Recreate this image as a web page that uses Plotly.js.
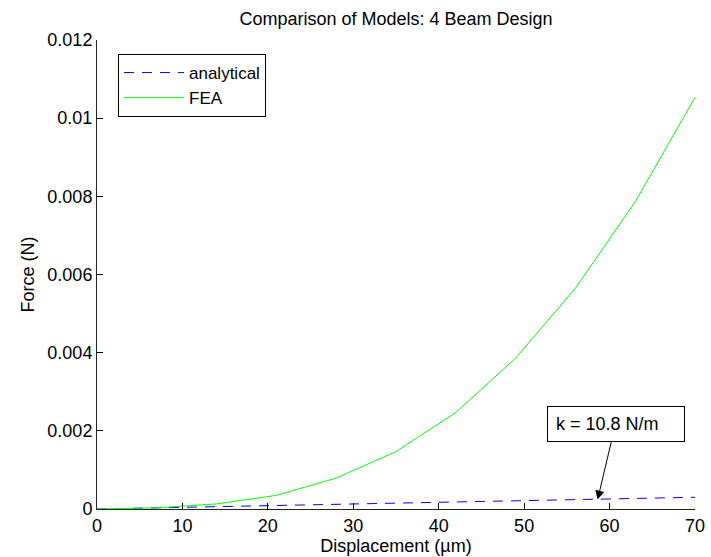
<!DOCTYPE html>
<html>
<head>
<meta charset="utf-8">
<script src="https://cdn.plot.ly/plotly-3.0.1.min.js"></script>
<style>html,body{margin:0;padding:0;background:#fff;}#chart{width:711px;height:557px;}</style>
</head>
<body>
<div id="chart"></div>
<script>
// Displacement (µm)
const displacement = [0, 7, 14, 21, 28, 35, 42, 49, 56, 63, 70];
// Analytical model force (N)
const analyticalForce = [0, 0.00003, 0.00006, 0.00009, 0.00012, 0.00015, 0.00018, 0.00021, 0.00024, 0.00027, 0.00030];
// FEA force (N)
const feaForce = [0, 0.00003, 0.00013, 0.00035, 0.00079, 0.00147, 0.00247, 0.00386, 0.00565, 0.00786, 0.01053];

const yTickVals = [0, 0.002, 0.004, 0.006, 0.008, 0.010, 0.012];
const yTickText = ['0', '0.002', '0.004', '0.006', '0.008', '0.01', '0.012'];
const xTickVals = [0, 10, 20, 30, 40, 50, 60, 70];

const annotationLabel = 'k = 10.8 N/m';
const annotationPoint = {x: 58.6, y: 0.00024};

const FONT = 'Liberation Sans, Arial, Helvetica, sans-serif';
const FS = 18;

const traces = [
  {x: displacement, y: analyticalForce, type: 'scatter', mode: 'lines', name: 'analytical',
   line: {color: '#0000ff', width: 1, dash: '10px,8px'}},
  {x: displacement, y: feaForce, type: 'scatter', mode: 'lines', name: 'FEA',
   line: {color: '#00ff00', width: 1}}
];

const layout = {
  width: 711, height: 557,
  margin: {l: 97, r: 16, t: 40, b: 48, pad: 0},
  paper_bgcolor: '#ffffff', plot_bgcolor: '#ffffff',
  font: {family: FONT, size: FS, color: '#000'},
  title: {text: 'Comparison of Models: 4 Beam Design', font: {family: FONT, size: FS, color: '#000'},
          x: 0.5, xref: 'paper', y: 1 - 19/557, yref: 'container', yanchor: 'middle'},
  xaxis: {range: [0, 70], tickvals: xTickVals, ticks: 'inside', ticklen: 6, tickcolor: '#000',
          showline: true, linecolor: '#222', linewidth: 1, showgrid: false, zeroline: false,
          tickfont: {family: FONT, size: FS, color: '#000'},
          title: {text: 'Displacement (µm)', font: {family: FONT, size: FS, color: '#000'}, standoff: 3}},
  yaxis: {range: [0, 0.012], tickvals: yTickVals, ticktext: yTickText, ticks: 'inside', ticklen: 6, tickcolor: '#000',
          showline: true, linecolor: '#222', linewidth: 1, showgrid: false, zeroline: false,
          tickfont: {family: FONT, size: FS, color: '#000'},
          title: {text: 'Force (N)', font: {family: FONT, size: FS, color: '#000'}, standoff: 8}},
  showlegend: true,
  legend: {x: 21/598, y: (509-54)/469, xanchor: 'left', yanchor: 'top', bgcolor: '#fff',
           bordercolor: '#000', borderwidth: 1, itemwidth: 60, tracegroupgap: 0,
           font: {family: FONT, size: 17, color: '#000'}},
  annotations: [{
    x: annotationPoint.x, y: annotationPoint.y, xref: 'x', yref: 'y',
    text: annotationLabel, showarrow: true, arrowhead: 2, arrowsize: 1.8, arrowwidth: 1, arrowcolor: '#000',
    ax: 18, ay: -76, align: 'left', valign: 'middle', width: 120, height: 18, borderpad: 8,
    bordercolor: '#000', borderwidth: 1, bgcolor: '#fff',
    font: {family: FONT, size: FS, color: '#000'}
  }]
};

Plotly.newPlot('chart', traces, layout, {displayModeBar: false, staticPlot: true});
</script>
</body>
</html>
